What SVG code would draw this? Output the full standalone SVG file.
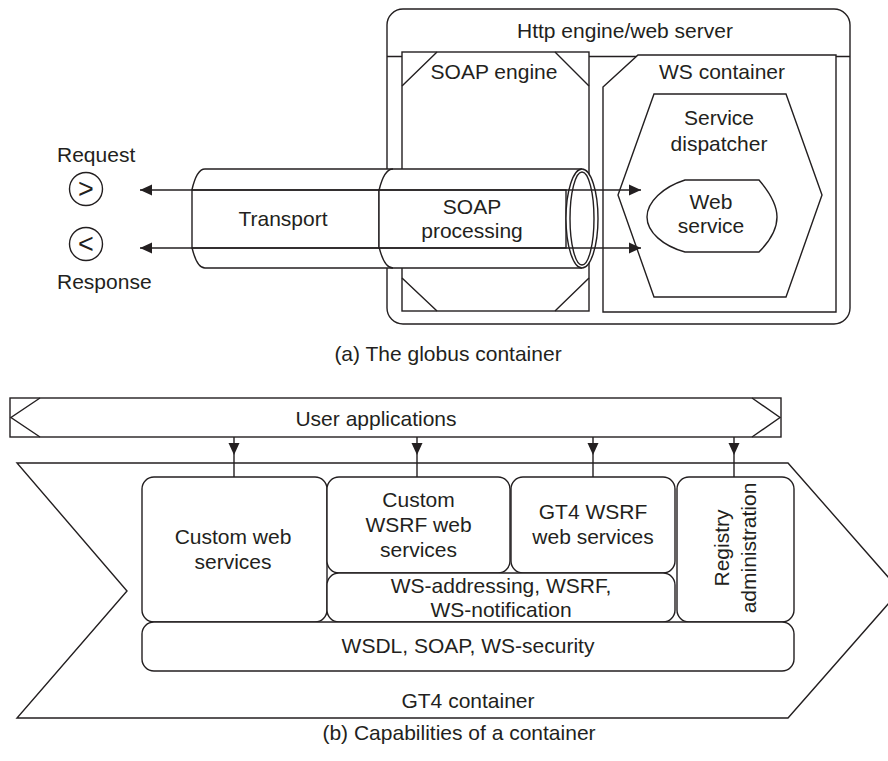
<svg xmlns="http://www.w3.org/2000/svg" width="888" height="761" viewBox="0 0 888 761">
  <style>
    .s { fill: #ffffff; stroke: #231f20; stroke-width: 1.4; }
    .l { fill: none; stroke: #231f20; stroke-width: 1.4; }
    .t { font-family: "Liberation Sans", Arial, sans-serif; font-size: 21px; fill: #231f20; text-anchor: middle; }
    .ts { text-anchor: start; }
    .g { font-family: "Liberation Sans", Arial, sans-serif; font-size: 27px; fill: #231f20; text-anchor: middle; }
  </style>
  <defs>
    <marker id="ah" viewBox="0 0 12 12" refX="12" refY="6" markerWidth="12" markerHeight="12" markerUnits="userSpaceOnUse" orient="auto-start-reverse">
      <path d="M0,0.5 L12,6 L0,11.5 Z" fill="#231f20"/>
    </marker>
  </defs>
  <rect width="888" height="761" fill="#ffffff"/>

  <!-- (a) The globus container -->
  <g id="http-engine">
    <rect class="s" x="387" y="9" width="463" height="315" rx="16"/>
    <line class="l" x1="387" y1="56.5" x2="850" y2="56.5"/>
    <text class="t" x="625" y="38">Http engine/web server</text>
  </g>
  <g id="soap-engine">
    <rect class="s" x="402" y="52" width="187" height="259"/>
    <path class="l" d="M402,86 L437,52 M555,52 L589,86 M402,278 L437,311 M555,311 L589,278"/>
    <text class="t" x="494" y="79">SOAP engine</text>
  </g>
  <g id="ws-container">
    <path class="s" d="M603,87 L638,55 L836,55 L836,312 L603,312 Z"/>
    <text class="t" x="722" y="79">WS container</text>
  </g>
  <g id="service-dispatcher">
    <path class="s" d="M654,94 L786,94 L822,195 L786,297 L654,297 L618,195 Z"/>
    <text class="t" x="719" y="125">Service</text>
    <text class="t" x="719" y="151">dispatcher</text>
  </g>
  <g id="web-service">
    <path class="s" d="M685,180 L759,180 C771,194 777,205 777,217 C777,229 771,240 759,252 L685,252 C663,246 647,232 647,217 C647,202 663,187 685,180 Z"/>
    <text class="t" x="711" y="209">Web</text>
    <text class="t" x="711" y="233">service</text>
  </g>
  <g id="pipe">
    <path d="M205,169 L582,169 L582,268 L205,268 A16,49.5 0 0 1 205,169 Z" fill="#ffffff" stroke="none"/>
    <path class="l" d="M205,169 L582,169 M205,268 L582,268"/>
    <path class="l" d="M205,169 A16,49.5 0 0 0 191.9,190 M192.1,248 A16,49.5 0 0 0 205,268"/>
    <path class="l" d="M393,169 A17,49.5 0 0 0 379.1,190 M379.3,248 A17,49.5 0 0 0 393,268"/>
  </g>
  <g id="transport">
    <rect class="s" x="192" y="190" width="187" height="58"/>
    <text class="t" x="283" y="226">Transport</text>
  </g>
  <g id="soap-processing">
    <rect class="s" x="379" y="190" width="187" height="58"/>
    <text class="t" x="472" y="214">SOAP</text>
    <text class="t" x="472" y="238">processing</text>
  </g>
  <g id="pipe-end">
    <ellipse class="s" cx="582" cy="218.5" rx="16" ry="49.5"/>
    <ellipse class="l" cx="582" cy="218.5" rx="12" ry="46.5"/>
  </g>
  <g id="request">
    <text class="t ts" x="57" y="162">Request</text>
    <circle class="s" cx="86" cy="189" r="16.5"/>
    <text class="g" x="86" y="198">&gt;</text>
  </g>
  <g id="response">
    <circle class="s" cx="86" cy="244" r="16.5"/>
    <text class="g" x="86" y="253">&lt;</text>
    <text class="t ts" x="57" y="289">Response</text>
  </g>
  <g id="connectors-a">
    <line class="l" x1="140" y1="190" x2="641" y2="190" marker-start="url(#ah)" marker-end="url(#ah)"/>
    <line class="l" x1="140" y1="248" x2="641" y2="248" marker-start="url(#ah)" marker-end="url(#ah)"/>
  </g>
  <text id="caption-a" class="t" x="448" y="361">(a) The globus container</text>

  <!-- (b) Capabilities of a container -->
  <g id="gt4-container">
    <path class="s" d="M17,463 L788,463 L900,590.5 L788,718 L17,718 L127,591 Z"/>
    <text class="t" x="468" y="708">GT4 container</text>
  </g>
  <g id="user-applications">
    <rect class="s" x="10" y="398" width="771" height="39"/>
    <path class="l" d="M40,398 L11,417.5 L40,437 M752,398 L780,417.5 L752,437"/>
    <text class="t" x="376" y="426">User applications</text>
  </g>
  <g id="custom-web-services">
    <rect class="s" x="142" y="477" width="185" height="145" rx="12"/>
    <text class="t" x="233" y="544">Custom web</text>
    <text class="t" x="233" y="569">services</text>
  </g>
  <g id="custom-wsrf">
    <rect class="s" x="327" y="477" width="183" height="96" rx="12"/>
    <text class="t" x="418.5" y="507">Custom</text>
    <text class="t" x="418.5" y="532">WSRF web</text>
    <text class="t" x="418.5" y="557">services</text>
  </g>
  <g id="gt4-wsrf">
    <rect class="s" x="511" y="477" width="164" height="96" rx="12"/>
    <text class="t" x="593" y="519">GT4 WSRF</text>
    <text class="t" x="593" y="544">web services</text>
  </g>
  <g id="ws-addressing">
    <rect class="s" x="327" y="573" width="348" height="49" rx="12"/>
    <text class="t" x="501" y="593">WS-addressing, WSRF,</text>
    <text class="t" x="501" y="617">WS-notification</text>
  </g>
  <g id="registry">
    <rect class="s" x="677" y="477" width="117" height="145" rx="12"/>
    <text class="t" transform="translate(729,548) rotate(-90)" x="0" y="0">Registry</text>
    <text class="t" transform="translate(756,548) rotate(-90)" x="0" y="0">administration</text>
  </g>
  <g id="wsdl-soap">
    <rect class="s" x="142" y="622" width="652" height="49" rx="12"/>
    <text class="t" x="468" y="653">WSDL, SOAP, WS-security</text>
  </g>
  <g id="connectors-b">
    <path class="l" d="M234,437 L234,455 L234,477" marker-mid="url(#ah)"/>
    <path class="l" d="M417,437 L417,455 L417,477" marker-mid="url(#ah)"/>
    <path class="l" d="M593,437 L593,455 L593,477" marker-mid="url(#ah)"/>
    <path class="l" d="M734,437 L734,455 L734,477" marker-mid="url(#ah)"/>
  </g>
  <text id="caption-b" class="t" x="459" y="740">(b) Capabilities of a container</text>
</svg>
